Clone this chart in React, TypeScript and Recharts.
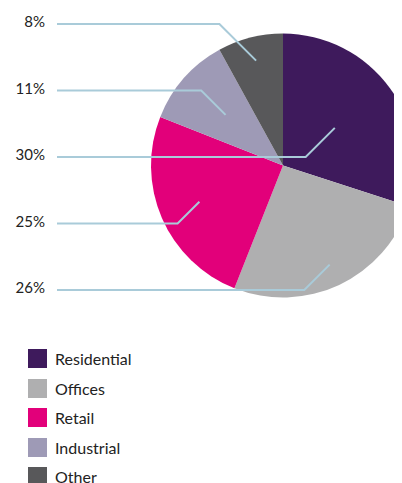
import React from 'react';
import { PieChart, Pie, Cell, Legend } from 'recharts';

const categories = ['Residential', 'Offices', 'Retail', 'Industrial', 'Other'];
const shares = [30, 26, 25, 11, 8];
const percentLabels = ['30%', '26%', '25%', '11%', '8%'];

const colors = ['#3e1a5c', '#afafb0', '#e2007a', '#9e9ab6', '#58585a'];
const leaderDepth = [0.485, 0.83, 0.69, 0.58, 0.82];
const LEADER = '#a9cbd9';
const FONT = 'Lato, "Open Sans", sans-serif';

const data = categories.map((name, i) => ({ name, value: shares[i], label: percentLabels[i] }));

const W = 394;
const H = 475;
const CX = 275;
const CY = 157.5;
const R = 132;
const ROW_START = 16;
const ROW_STEP = 66.5;
const LINE_X = 49;
const TEXT_X = 37;
const RAD = Math.PI / 180;

// rank slices by the vertical position of their leader anchor
const total = shares.reduce((a, b) => a + b, 0);
const anchorYs = (() => {
  let acc = 0;
  return shares.map((v, i) => {
    const mid = 90 - ((acc + v / 2) / total) * 360;
    acc += v;
    return -Math.sin(mid * RAD) * R * leaderDepth[i];
  });
})();
const order = anchorYs.map((y, i) => ({ y, i })).sort((a, b) => a.y - b.y).map((o) => o.i);
const rowOf = (i: number) => order.indexOf(i);

const renderLabel = (props: any) => {
  const { cx, cy, midAngle, outerRadius, index } = props;
  const r = outerRadius * leaderDepth[index];
  const px = cx + r * Math.cos(-midAngle * RAD);
  const py = cy + r * Math.sin(-midAngle * RAD);
  const rowY = ROW_START + ROW_STEP * rowOf(index);
  const ex = px - Math.abs(rowY - py);
  return (
    <g key={`lbl-${index}`}>
      <polyline
        points={`${LINE_X},${rowY} ${ex},${rowY} ${px},${py}`}
        fill="none"
        stroke={LEADER}
        strokeWidth={2}
      />
      <text x={TEXT_X} y={rowY + 3} textAnchor="end" fontFamily={FONT} fontSize={15} fill="#222">
        {data[index].label}
      </text>
    </g>
  );
};

const renderLegend = () => (
  <div style={{ fontFamily: FONT }}>
    {data.map((d, i) => (
      <div key={d.name} style={{ display: 'flex', alignItems: 'center', height: 29.5 }}>
        <span style={{ width: 19, height: 19, background: colors[i], display: 'inline-block', marginRight: 8 }} />
        <span style={{ fontSize: 16, color: '#222' }}>{d.name}</span>
      </div>
    ))}
  </div>
);

export default function App() {
  return (
    <div style={{ width: W, height: H, position: 'relative' }}>
      <PieChart width={W} height={H} margin={{ top: 0, right: 0, bottom: 0, left: 0 }}>
        <Pie
          data={data}
          dataKey="value"
          nameKey="name"
          cx={CX}
          cy={CY}
          innerRadius={0}
          outerRadius={R}
          startAngle={90}
          endAngle={-270}
          stroke="none"
          label={renderLabel}
          labelLine={false}
          isAnimationActive={false}
        >
          {data.map((d, i) => (
            <Cell key={d.name} fill={colors[i]} />
          ))}
        </Pie>
        <Legend
          layout="horizontal"
          align="left"
          verticalAlign="bottom"
          content={renderLegend}
          wrapperStyle={{ position: 'absolute', top: 336, left: 20, width: 200, height: 10 }}
        />
      </PieChart>
    </div>
  );
}
